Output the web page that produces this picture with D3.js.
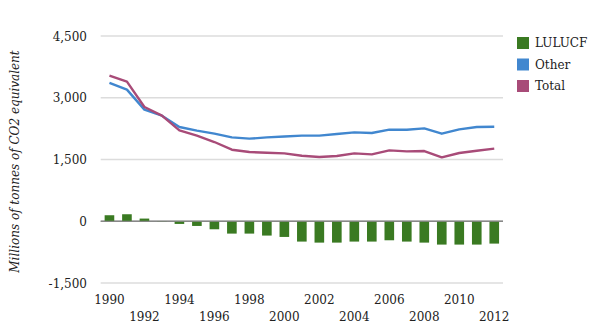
<!DOCTYPE html>
<html>
<head>
<meta charset="utf-8">
<script src="https://cdn.jsdelivr.net/npm/d3@7"></script>
<style>
  html, body { margin: 0; padding: 0; background: #fff; }
  svg { display: block; }
  text { font-family: "DejaVu Serif", Georgia, serif; fill: #222; }
</style>
</head>
<body>
<svg id="chart" width="600" height="336"></svg>
<script>
const years = [1990,1991,1992,1993,1994,1995,1996,1997,1998,1999,2000,2001,2002,2003,2004,2005,2006,2007,2008,2009,2010,2011,2012];
const lulucf = [146,170,65,-10,-65,-114,-195,-300,-300,-348,-381,-494,-519,-519,-494,-494,-462,-494,-519,-567,-567,-567,-543];
const other = [3360,3197,2711,2565,2290,2200,2127,2037,2006,2037,2060,2079,2079,2120,2159,2144,2224,2224,2257,2127,2233,2290,2297];
const total = [3537,3391,2776,2565,2208,2079,1925,1738,1682,1665,1648,1592,1560,1585,1648,1624,1721,1697,1705,1551,1658,1714,1763];
const yTicks = [-1500,0,1500,3000,4500];
const seriesNames = ["LULUCF","Other","Total"];
const seriesColors = ["#3a7a22","#4187cf","#a84b78"];
const yTitle = "Millions of tonnes of CO2 equivalent";

const svg = d3.select("#chart");
const x = d3.scaleBand().domain(years).range([100.7, 503]).paddingInner(0.45).paddingOuter(0.225);
const y = d3.scaleLinear().domain([-1500, 4500]).range([283, 36]);

// gridlines
svg.append("g").selectAll("line").data(yTicks).join("line")
  .attr("x1", 100.7).attr("x2", 503)
  .attr("y1", d => y(d)).attr("y2", d => y(d))
  .attr("stroke", d => d === 0 ? "#888" : "#dcdcdc")
  .attr("stroke-width", 1.5);

// y tick labels
const fmt = d3.format(",");
const yAxis = d3.axisLeft(y).tickValues(yTicks).tickSize(0).tickPadding(0)
  .tickFormat(d => fmt(d).replace("\u2212", "-"));
const ya = svg.append("g").attr("transform", "translate(87,0)").call(yAxis);
ya.select(".domain").remove();
ya.selectAll("text").attr("font-size", 12).attr("font-family", "DejaVu Serif").attr("fill", "#222").attr("dy", "0.35em");

// y title
svg.append("text")
  .attr("transform", `translate(19,${(y(-1500)+y(4500))/2 + 2}) rotate(-90)`)
  .attr("text-anchor", "middle")
  .attr("font-style", "italic")
  .attr("font-size", 12)
  .attr("font-family", "Liberation Serif")
  .text(yTitle);

// bars
svg.append("g").selectAll("rect").data(years).join("rect")
  .attr("x", d => x(d))
  .attr("width", x.bandwidth())
  .attr("y", (d,i) => y(Math.max(0, lulucf[i])))
  .attr("height", (d,i) => Math.abs(y(lulucf[i]) - y(0)))
  .attr("fill", seriesColors[0]);

// zero line on top
svg.append("line").attr("x1", 100.7).attr("x2", 503).attr("y1", y(0)).attr("y2", y(0))
  .attr("stroke", "#888").attr("stroke-width", 1.2);

// lines
const line = d3.line().x((d,i) => x(years[i]) + x.bandwidth()/2).y(d => y(d));
svg.append("path").datum(other).attr("d", line).attr("fill", "none")
  .attr("stroke", seriesColors[1]).attr("stroke-width", 2.4).attr("stroke-linejoin", "round");
svg.append("path").datum(total).attr("d", line).attr("fill", "none")
  .attr("stroke", seriesColors[2]).attr("stroke-width", 2.4).attr("stroke-linejoin", "round");

// x labels (even years, staggered)
const xa = svg.append("g");
years.forEach((yr, i) => {
  if (yr % 2 !== 0) return;
  const row = (yr % 4 === 2) ? 0 : 1; // 1990,1994.. upper
  xa.append("text")
    .attr("x", x(yr) + x.bandwidth()/2)
    .attr("y", row === 0 ? 304 : 321)
    .attr("text-anchor", "middle")
    .attr("font-size", 12)
    .text(yr);
});

// legend
const lg = svg.append("g");
seriesNames.forEach((n, i) => {
  lg.append("rect").attr("x", 517).attr("y", 37 + i*21.5).attr("width", 12).attr("height", 12)
    .attr("fill", seriesColors[i]);
  lg.append("text").attr("x", 535).attr("y", 43 + i*21.5).attr("dy", "0.35em")
    .attr("font-size", 12).text(n);
});
</script>
</body>
</html>
